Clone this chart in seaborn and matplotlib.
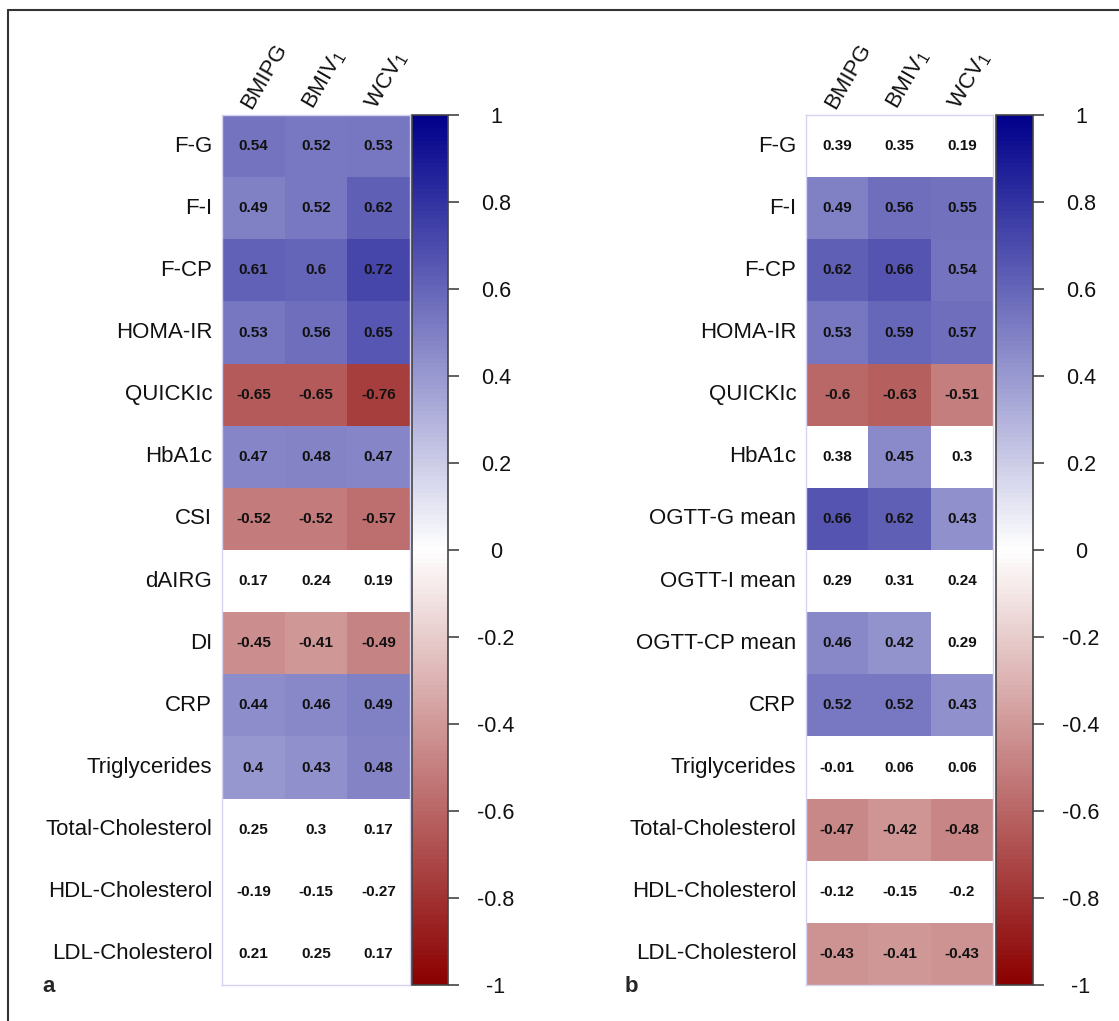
import numpy as np
import pandas as pd
import matplotlib
matplotlib.use("Agg")
import matplotlib.pyplot as plt
import seaborn as sns
from matplotlib.colors import LinearSegmentedColormap

sns.set_theme(style="white")
plt.rcParams["font.family"] = ["Liberation Sans", "DejaVu Sans"]
plt.rcParams["mathtext.fontset"] = "custom"
plt.rcParams["mathtext.rm"] = "Liberation Sans"
plt.rcParams["mathtext.default"] = "regular"

# ── data ──────────────────────────────────────────────────────────────────────
cols = ["BMIPG", "BMIV$_1$", "WCV$_1$"]

rows_a = ["F-G", "F-I", "F-CP", "HOMA-IR", "QUICKIc", "HbA1c", "CSI", "dAIRG", "DI",
          "CRP", "Triglycerides", "Total-Cholesterol", "HDL-Cholesterol", "LDL-Cholesterol"]
vals_a = [[0.54, 0.52, 0.53],
          [0.49, 0.52, 0.62],
          [0.61, 0.6, 0.72],
          [0.53, 0.56, 0.65],
          [-0.65, -0.65, -0.76],
          [0.47, 0.48, 0.47],
          [-0.52, -0.52, -0.57],
          [0.17, 0.24, 0.19],
          [-0.45, -0.41, -0.49],
          [0.44, 0.46, 0.49],
          [0.4, 0.43, 0.48],
          [0.25, 0.3, 0.17],
          [-0.19, -0.15, -0.27],
          [0.21, 0.25, 0.17]]
sig_a = [[1, 1, 1], [1, 1, 1], [1, 1, 1], [1, 1, 1], [1, 1, 1], [1, 1, 1], [1, 1, 1],
         [0, 0, 0], [1, 1, 1], [1, 1, 1], [1, 1, 1], [0, 0, 0], [0, 0, 0], [0, 0, 0]]

rows_b = ["F-G", "F-I", "F-CP", "HOMA-IR", "QUICKIc", "HbA1c", "OGTT-G mean", "OGTT-I mean",
          "OGTT-CP mean", "CRP", "Triglycerides", "Total-Cholesterol", "HDL-Cholesterol",
          "LDL-Cholesterol"]
vals_b = [[0.39, 0.35, 0.19],
          [0.49, 0.56, 0.55],
          [0.62, 0.66, 0.54],
          [0.53, 0.59, 0.57],
          [-0.6, -0.63, -0.51],
          [0.38, 0.45, 0.3],
          [0.66, 0.62, 0.43],
          [0.29, 0.31, 0.24],
          [0.46, 0.42, 0.29],
          [0.52, 0.52, 0.43],
          [-0.01, 0.06, 0.06],
          [-0.47, -0.42, -0.48],
          [-0.12, -0.15, -0.2],
          [-0.43, -0.41, -0.43]]
sig_b = [[0, 0, 0], [1, 1, 1], [1, 1, 1], [1, 1, 1], [1, 1, 1], [0, 1, 0], [1, 1, 1],
         [0, 0, 0], [1, 1, 0], [1, 1, 1], [0, 0, 0], [1, 1, 1], [0, 0, 0], [1, 1, 1]]

cbar_ticks = [1, 0.8, 0.6, 0.4, 0.2, 0, -0.2, -0.4, -0.6, -0.8, -1]

cmap = LinearSegmentedColormap.from_list("rwb", ["#8B0000", "#FFFFFF", "#00008B"], N=200)

W, H = 1119, 1021
fig = plt.figure(figsize=(W / 100, H / 100), dpi=100)


def fx(px):
    return px / W


def fy(px):
    return 1 - px / H


top, bot = 115, 985


def panel(rows, vals, sig, x0, x1, c0, c1, letter, lx):
    ax = fig.add_axes([fx(x0), fy(bot), fx(x1 - x0), fy(top) - fy(bot)])
    cax = fig.add_axes([fx(c0), fy(bot), fx(c1 - c0), fy(top) - fy(bot)])
    df = pd.DataFrame(vals, index=rows, columns=cols)
    mask = np.array(sig) == 0
    sns.heatmap(df, mask=mask, cmap=cmap, vmin=-1, vmax=1, ax=ax, cbar_ax=cax,
                xticklabels=False, yticklabels=True, linewidths=0)
    for i, r in enumerate(vals):
        for j, v in enumerate(r):
            ax.text(j + 0.5, i + 0.5, f"{v:g}", ha="center", va="center",
                    fontsize=11, fontweight="bold", color="#111111")
    for j, c in enumerate(cols):
        ax.text(j + 0.46, -0.08, c, rotation=60, rotation_mode="anchor",
                ha="left", va="baseline", fontsize=16, color="#111111")
    ax.set_yticklabels(rows, rotation=0, fontsize=16, color="#111111")
    ax.tick_params(axis="y", length=0, pad=7)
    ax.set_ylabel(""); ax.set_xlabel("")
    for s in ax.spines.values():
        s.set_visible(True); s.set_color("#d4d4f0"); s.set_linewidth(1)

    cb = ax.collections[0].colorbar
    cb.set_ticks(cbar_ticks)
    cb.set_ticklabels([f"{t:g}" for t in cbar_ticks])
    cax.tick_params(axis="y", length=8, width=1.2, color="#444444", pad=26.5, right=True,
                    labelsize=15.5, labelcolor="#111111")
    for t in cax.get_yticklabels():
        t.set_horizontalalignment("center")
    cb.outline.set_edgecolor("#444444")
    cb.outline.set_linewidth(1.2)

    fig.text(fx(lx), fy(992), letter, fontsize=16, fontweight="bold", ha="left", va="baseline")


panel(rows_a, vals_a, sig_a, 222, 410, 412, 448, "a", 42)
panel(rows_b, vals_b, sig_b, 806, 993, 996, 1033, "b", 625)

# outer frame (left + top edges)
fig.add_artist(plt.Line2D([fx(8), fx(8)], [fy(10), 0], color="#333333", lw=1.5))
fig.add_artist(plt.Line2D([fx(8), 1], [fy(10), fy(10)], color="#333333", lw=1.5))

fig.savefig("out.png", dpi=100)
